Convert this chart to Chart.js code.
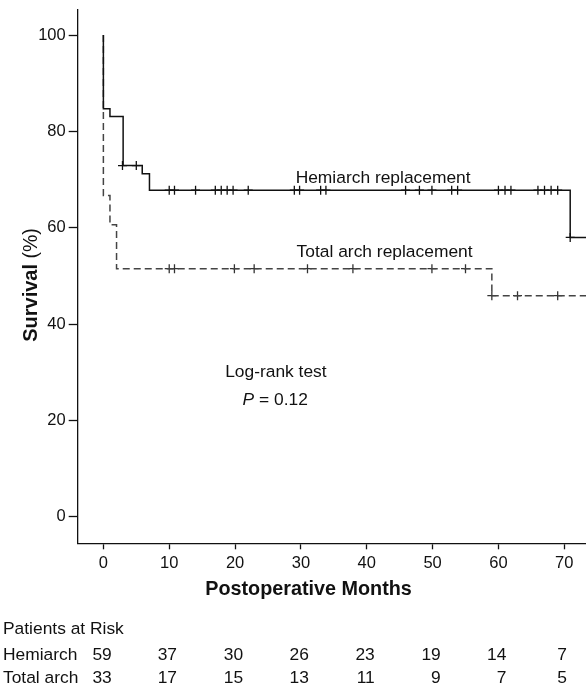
<!DOCTYPE html>
<html>
<head>
<meta charset="utf-8">
<script src="https://cdn.jsdelivr.net/npm/chart.js@4.4.1/dist/chart.umd.min.js"></script>
<style>
  body { margin: 0; background: #fff; }
  #wrap { width: 586px; height: 686px; position: relative; }
</style>
</head>
<body>
<div id="wrap"><canvas id="km"></canvas></div>
<script>
// Kaplan-Meier steps (months, survival %)
const hemiTimes = [0, 0, 1.0, 3.0, 5.9, 7.0, 70.9, 73.3];
const hemiSurv  = [100, 84.7, 83.1, 72.9, 71.2, 67.8, 58.0, 58.0];
const totalTimes = [0, 0, 1.0, 2.0, 59.0, 73.3];
const totalSurv  = [100, 66.7, 60.6, 51.5, 45.9, 45.9];

// censored patients
const hemiCensorTimes = [2.9, 5.0, 10.0, 10.8, 14.0, 17.0, 17.9, 18.8, 19.7, 22.0, 29.0, 29.8, 33.0, 33.8,
                         45.9, 48.0, 49.9, 52.9, 53.8, 60.0, 61.0, 61.9, 66.0, 67.0, 68.0, 69.0, 70.9];
const hemiCensorSurv  = [72.9, 72.9, 67.8, 67.8, 67.8, 67.8, 67.8, 67.8, 67.8, 67.8, 67.8, 67.8, 67.8, 67.8,
                         67.8, 67.8, 67.8, 67.8, 67.8, 67.8, 67.8, 67.8, 67.8, 67.8, 67.8, 67.8, 58.0];
const totalCensorTimes = [10.0, 10.8, 19.9, 22.9, 31.0, 37.9, 49.9, 55.0, 59.0, 62.9, 69.0];
const totalCensorSurv  = [51.5, 51.5, 51.5, 51.5, 51.5, 51.5, 51.5, 51.5, 45.9, 45.9, 45.9];

// patients at risk table
const riskMonths = [0, 10, 20, 30, 40, 50, 60, 70];
const riskHemi   = [59, 37, 30, 26, 23, 19, 14, 7];
const riskTotal  = [33, 17, 15, 13, 11, 9, 7, 5];

const FONT = '"Liberation Sans", Arial, sans-serif';
const INK = '#111';

function pts(xs, ys) {
    return xs.map((v, i) => ({x: v, y: ys[i]}));
}

// text that sits around the plot: curve labels, titles and the risk table
const kmText = {
    id: 'kmText',
    afterDraw(chart) {
        const ctx = chart.ctx;
        const x = chart.scales.x, y = chart.scales.y;
        ctx.save();
        ctx.fillStyle = INK;
        ctx.textBaseline = 'alphabetic';

        ctx.font = '17.4px ' + FONT;
        ctx.textAlign = 'left';
        ctx.fillText('Hemiarch replacement', x.getPixelForValue(29.2), y.getPixelForValue(69.3));
        ctx.fillText('Total arch replacement', x.getPixelForValue(29.35), y.getPixelForValue(54.0));
        ctx.textAlign = 'center';
        ctx.fillText('Log-rank test', x.getPixelForValue(26.2), y.getPixelForValue(29.1));

        // P = 0.12 with italic P
        let px = x.getPixelForValue(26.1), py = y.getPixelForValue(23.2);
        ctx.font = 'italic 17.4px ' + FONT;
        let w1 = ctx.measureText('P').width;
        ctx.font = '17.4px ' + FONT;
        let w2 = ctx.measureText(' = 0.12').width;
        ctx.textAlign = 'left';
        ctx.font = 'italic 17.4px ' + FONT;
        ctx.fillText('P', px - (w1 + w2) / 2, py);
        ctx.font = '17.4px ' + FONT;
        ctx.fillText(' = 0.12', px - (w1 + w2) / 2 + w1, py);

        // x title
        ctx.font = 'bold 19.8px ' + FONT;
        ctx.textAlign = 'center';
        ctx.fillText('Postoperative Months', 308.5, 595);

        // y title, rotated, bold + normal part
        ctx.save();
        ctx.translate(37, 285);
        ctx.rotate(-Math.PI / 2);
        ctx.font = 'bold 20px ' + FONT;
        let a = ctx.measureText('Survival').width;
        ctx.font = '19.5px ' + FONT;
        let b = ctx.measureText(' (%)').width;
        ctx.textAlign = 'left';
        ctx.font = 'bold 20px ' + FONT;
        ctx.fillText('Survival', -(a + b) / 2, 0);
        ctx.font = '19.5px ' + FONT;
        ctx.fillText(' (%)', -(a + b) / 2 + a, 0);
        ctx.restore();

        // patients at risk
        const rowY = [634, 660, 683];
        const colShift = [8.4, 7.8, 8, 8, 8, 8.2, 8, 2.7];
        ctx.font = '17.4px ' + FONT;
        ctx.textAlign = 'left';
        ctx.fillText('Patients at Risk', 3, rowY[0]);
        ctx.fillText('Hemiarch', 3, rowY[1]);
        ctx.fillText('Total arch', 3, rowY[2]);
        ctx.textAlign = 'right';
        for (let i = 0; i < riskMonths.length; i++) {
            let cx = x.getPixelForValue(riskMonths[i]) + colShift[i];
            ctx.fillText(String(riskHemi[i]), cx, rowY[1]);
            ctx.fillText(String(riskTotal[i]), cx, rowY[2]);
        }
        ctx.restore();
    }
};

const km_chart = new Chart(document.getElementById('km'), {
    type: 'scatter',
    data: {
        datasets: [{
            label: 'Hemiarch',
            data: pts(hemiTimes, hemiSurv),
            showLine: true,
            stepped: true,
            borderColor: INK,
            borderWidth: 1.5,
            pointRadius: 0
        },
        {
            label: 'Hemiarch censored',
            data: pts(hemiCensorTimes, hemiCensorSurv),
            pointStyle: 'cross',
            pointRadius: 4.5,
            borderColor: INK,
            borderWidth: 1.3
        },
        {
            label: 'Total arch',
            data: pts(totalTimes, totalSurv),
            showLine: true,
            stepped: true,
            borderColor: '#444',
            borderDash: [7, 4],
            borderWidth: 1.5,
            pointRadius: 0
        },
        {
            label: 'Total arch censored',
            data: pts(totalCensorTimes, totalCensorSurv),
            pointStyle: 'cross',
            pointRadius: 4.5,
            borderColor: '#333',
            borderWidth: 1.3
        }]
    },
    options: {
        responsive: true,
        maintainAspectRatio: false,
        animation: false,
        layout: { autoPadding: false, padding: { top: 10, left: 0, right: 0, bottom: 0 } },
        plugins: {
            legend: { display: false },
            tooltip: { enabled: false }
        },
        scales: {
            x: {
                type: 'linear',
                min: -3.9,
                max: 73.3,
                afterFit(s) { s.height = 142.7; s.paddingLeft = 0; s.paddingRight = 0; },
                border: { color: INK, width: 1.3 },
                grid: { drawOnChartArea: false, tickLength: 6, tickColor: INK, tickWidth: 1.3 },
                ticks: {
                    stepSize: 10,
                    includeBounds: false,
                    autoSkip: false,
                    maxRotation: 0,
                    padding: 4,
                    color: INK,
                    font: { family: FONT, size: 16.5 }
                }
            },
            y: {
                min: -5.5,
                max: 105.2,
                afterFit(s) { s.width = 77.7; s.paddingTop = 0; s.paddingBottom = 0; },
                border: { color: INK, width: 1.3 },
                grid: { drawOnChartArea: false, tickLength: 9, tickColor: INK, tickWidth: 1.3 },
                ticks: {
                    stepSize: 20,
                    includeBounds: false,
                    padding: 3,
                    color: INK,
                    font: { family: FONT, size: 16.5 }
                }
            }
        }
    },
    plugins: [kmText]
});
</script>
</body>
</html>
